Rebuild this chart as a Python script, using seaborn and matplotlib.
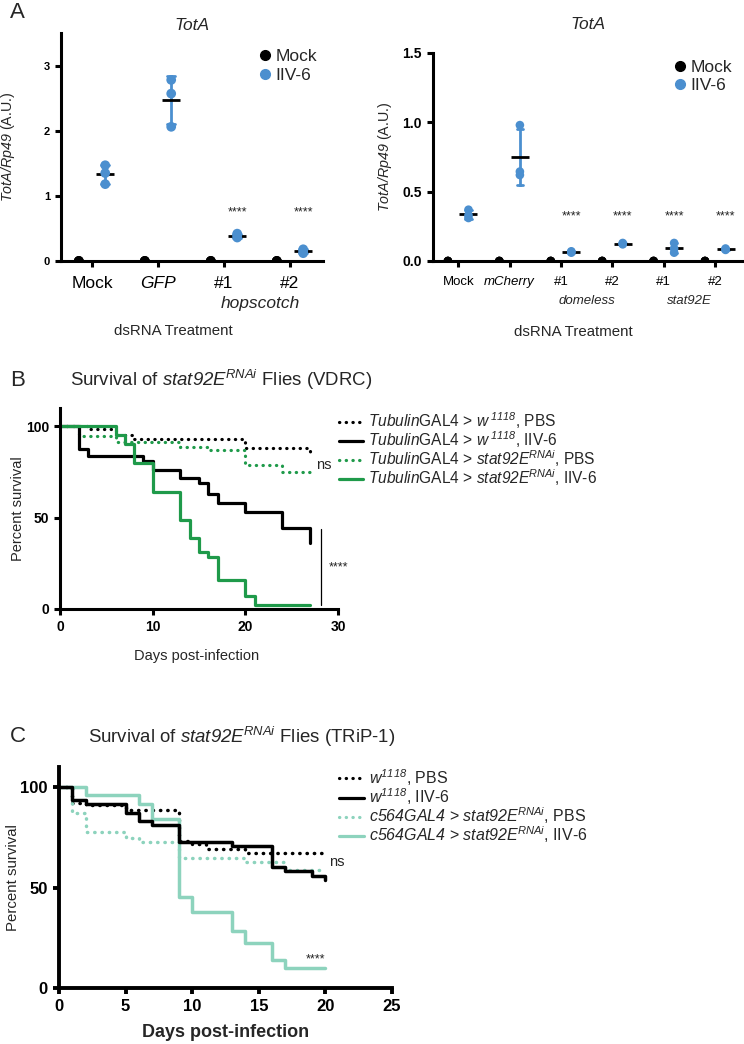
import numpy as np
import pandas as pd
import matplotlib
matplotlib.use("Agg")
import matplotlib.pyplot as plt
from matplotlib.lines import Line2D
import seaborn as sns

# ----------------------------------------
# Data: panel A (TotA / Rp49, three replicates per group)
# ----------------------------------------
left_groups = ["Mock", "GFP", "hop #1", "hop #2"]
left_ticklabels = ["Mock", "GFP", "#1", "#2"]
left_mock = [[0.0, 0.0, 0.0], [0.0, 0.0, 0.0], [0.0, 0.0, 0.0], [0.0, 0.0, 0.0]]
left_iiv6 = [[1.47, 1.35, 1.18], [2.78, 2.57, 2.06], [0.42, 0.39, 0.36], [0.18, 0.15, 0.12]]
left_stars = ["", "", "****", "****"]

right_groups = ["Mock", "mCherry", "dome #1", "dome #2", "stat #1", "stat #2"]
right_ticklabels = ["Mock", "mCherry", "#1", "#2", "#1", "#2"]
right_mock = [[0.0, 0.0, 0.0]] * 6
right_iiv6 = [[0.37, 0.33, 0.31], [0.98, 0.62, 0.645], [0.07, 0.06, 0.065],
              [0.13, 0.12, 0.125], [0.13, 0.09, 0.06], [0.09, 0.085, 0.08]]
right_stars = ["", "", "****", "****", "****", "****"]

# ----------------------------------------
# Data: panel B (VDRC survival)
# ----------------------------------------
b_ctrl_pbs_days = [0, 3, 6, 8, 20, 27]
b_ctrl_pbs_surv = [100, 98.4, 95, 93, 88.2, 86]
b_ctrl_iiv_days = [0, 2, 3, 9, 10, 13, 15, 16, 17, 20, 24, 27]
b_ctrl_iiv_surv = [100, 87.5, 84, 81, 76, 71.5, 69, 63, 58, 53, 44.5, 36]
b_rnai_pbs_days = [0, 2, 6, 13, 16, 20, 24, 27]
b_rnai_pbs_surv = [100, 94.5, 91.5, 88.7, 86.8, 78.7, 75, 75]
b_rnai_iiv_days = [0, 6, 7, 8, 10, 13, 14, 15, 16, 17, 20, 21, 27]
b_rnai_iiv_surv = [100, 95, 90.5, 80, 64, 48.6, 38.6, 31.3, 28.2, 15.8, 7.1, 2.2, 2.2]

# ----------------------------------------
# Data: panel C (TRiP-1 survival)
# ----------------------------------------
c_ctrl_pbs_days = [0, 1, 2, 5, 9, 10, 11, 14, 20]
c_ctrl_pbs_surv = [100, 92, 91, 88.6, 73, 71.5, 69.2, 67, 67]
c_ctrl_iiv_days = [0, 1, 2, 5, 6, 7, 9, 13, 16, 17, 19, 20]
c_ctrl_iiv_surv = [100, 93.5, 91.4, 87, 83, 81, 72.5, 70.5, 60.3, 58.2, 55.9, 53.7]
c_rnai_pbs_days = [0, 1, 2, 5, 6, 9, 14, 17, 20]
c_rnai_pbs_surv = [100, 87, 77.5, 74.5, 72.5, 64.5, 62.8, 58.7, 58.7]
c_rnai_iiv_days = [0, 2, 6, 7, 9, 10, 13, 14, 16, 17, 20]
c_rnai_iiv_surv = [100, 96, 91.5, 83.9, 45.4, 38, 28.4, 22.3, 14, 9.8, 9.8]

BLUE = "#4b8fcf"
GREEN = "#1f9a4a"
TEAL = "#8dd3bd"
DOT = (0, (0.1, 2.0))

# ----------------------------------------
# Style
# ----------------------------------------
sns.set_style("ticks")
plt.rcParams["font.family"] = ["Liberation Sans", "DejaVu Sans"]
plt.rcParams["mathtext.fontset"] = "custom"
plt.rcParams["mathtext.rm"] = "Liberation Sans"
plt.rcParams["mathtext.it"] = "Liberation Sans:italic"
plt.rcParams["mathtext.bf"] = "Liberation Sans:bold"
# \mathsf is used for italic gene names so the digits get slanted too
plt.rcParams["mathtext.sf"] = "Liberation Sans:italic"
plt.rcParams["axes.edgecolor"] = "black"

fig = plt.figure(figsize=(7.44, 10.44), dpi=100)


def px_axes(l, t, r, b):
    return fig.add_axes([l / 744, 1 - b / 1044, (r - l) / 744, (b - t) / 1044])


def style_axes(ax, lw, tick_fs):
    sns.despine(ax=ax)
    for s in ["left", "bottom"]:
        ax.spines[s].set_linewidth(lw)
    ax.tick_params(direction="out", length=4.5, width=lw, labelsize=tick_fs, colors="black")
    for lab in ax.get_yticklabels():
        lab.set_fontweight("bold")


def dot_panel(ax, groups, mock, iiv6, stars, star_y, size):
    n = len(groups)
    df = pd.DataFrame({
        "group": list(np.repeat(groups, 3)) * 2,
        "infection": ["Mock"] * (3 * n) + ["IIV-6"] * (3 * n),
        "value": np.concatenate([np.ravel(mock), np.ravel(iiv6)]),
    })
    pal = {"Mock": "black", "IIV-6": BLUE}
    sns.stripplot(data=df, x="group", y="value", hue="infection", order=groups,
                  hue_order=["Mock", "IIV-6"], dodge=True, jitter=False, palette=pal,
                  size=size, linewidth=0, legend=False, ax=ax, zorder=3)
    # SD error bars
    sns.pointplot(data=df, x="group", y="value", hue="infection", order=groups,
                  hue_order=["Mock", "IIV-6"], dodge=0.4, errorbar="sd", capsize=0.12,
                  linestyle="none", marker="o", markersize=0, palette=pal,
                  err_kws={"linewidth": 2}, legend=False, ax=ax)
    # mean lines
    sns.pointplot(data=df, x="group", y="value", hue="infection", order=groups,
                  hue_order=["Mock", "IIV-6"], dodge=0.4, errorbar=None,
                  linestyle="none", marker="_", markersize=13, markeredgewidth=2,
                  palette={"Mock": "black", "IIV-6": "black"}, legend=False, ax=ax)
    for i, s in enumerate(stars):
        if s:
            ax.text(i + 0.2, star_y, s, ha="center", va="center", fontsize=9, color="#222222")
    ax.set_xlabel("dsRNA Treatment", fontsize=10.8)
    ax.set_ylabel(r"$\mathsf{TotA/Rp49}$ (A.U.)", fontsize=10.3)
    handles = [Line2D([], [], marker="o", color="black", lw=0, markersize=7),
               Line2D([], [], marker="o", color=BLUE, lw=0, markersize=7)]
    return handles


# ----------------------------------------
# Panel A left
# ----------------------------------------
axA1 = px_axes(61, 33, 323, 261)
h = dot_panel(axA1, left_groups, left_mock, left_iiv6, left_stars, 0.75, 7)
axA1.set_xlim(-0.47, 3.5)
axA1.set_ylim(0, 3.5)
axA1.set_yticks([0, 1, 2, 3])
axA1.set_xticks(range(len(left_groups)))
axA1.set_xticklabels(left_ticklabels)
style_axes(axA1, 2.2, 8)
axA1.tick_params(axis="x", labelsize=12.5, pad=6)
axA1.get_xticklabels()[1].set_fontstyle("italic")
axA1.text(2.55, -0.185, "hopscotch", transform=axA1.get_xaxis_transform(),
          ha="center", va="center", fontsize=12.5, style="italic")
axA1.xaxis.set_label_coords(0.43, -0.275)
axA1.yaxis.set_label_coords(-0.168, 0.5)
axA1.set_title("TotA", style="italic", fontsize=12.5, pad=1.5)
axA1.legend(h, ["Mock", "IIV-6"], loc="upper left", bbox_to_anchor=(0.72, 0.96),
            frameon=False, fontsize=12.5, handletextpad=0.1, borderaxespad=0,
            labelspacing=0.2, handlelength=1.0)

# ----------------------------------------
# Panel A right
# ----------------------------------------
axA2 = px_axes(433, 53, 742, 261)
h = dot_panel(axA2, right_groups, right_mock, right_iiv6, right_stars, 0.32, 6.2)
axA2.set_xlim(-0.49, 5.52)
axA2.set_ylim(0, 1.5)
axA2.set_yticks([0, 0.5, 1.0, 1.5])
axA2.set_yticklabels(["0.0", "0.5", "1.0", "1.5"])
axA2.set_xticks(range(len(right_groups)))
axA2.set_xticklabels(right_ticklabels)
style_axes(axA2, 2.2, 10)
axA2.tick_params(axis="x", labelsize=9.5, pad=6)
axA2.get_xticklabels()[1].set_fontstyle("italic")
for xc, name in [(2.5, "domeless"), (4.5, "stat92E")]:
    axA2.text(xc, -0.19, name, transform=axA2.get_xaxis_transform(),
              ha="center", va="center", fontsize=9.5, style="italic")
axA2.xaxis.set_label_coords(0.453, -0.31)
axA2.yaxis.set_label_coords(-0.126, 0.5)
axA2.set_title("TotA", style="italic", fontsize=12.5, pad=17)
axA2.legend(h, ["Mock", "IIV-6"], loc="upper left", bbox_to_anchor=(0.75, 1.0),
            frameon=False, fontsize=12.5, handletextpad=0.1, borderaxespad=0,
            labelspacing=0.15, handlelength=1.0)

# ----------------------------------------
# Panel B
# ----------------------------------------
axB = px_axes(60, 408, 338, 609)
for d, s, c, ls in [(b_ctrl_pbs_days, b_ctrl_pbs_surv, "black", DOT),
                    (b_rnai_pbs_days, b_rnai_pbs_surv, GREEN, DOT),
                    (b_ctrl_iiv_days, b_ctrl_iiv_surv, "black", "-"),
                    (b_rnai_iiv_days, b_rnai_iiv_surv, GREEN, "-")]:
    sns.lineplot(x=d, y=s, drawstyle="steps-post", color=c, linewidth=2.3,
                 linestyle=ls, dash_capstyle="round", estimator=None, ax=axB)
axB.set_xlim(0, 30)
axB.set_ylim(0, 110)
axB.set_xticks([0, 10, 20, 30])
axB.set_yticks([0, 50, 100])
style_axes(axB, 2.2, 10)
for lab in axB.get_xticklabels():
    lab.set_fontweight("bold")
axB.plot([28.2, 28.2], [2.2, 43.7], color="black", lw=0.9)
axB.text(29.0, 22.5, "****", fontsize=9, va="center", ha="left", color="#222222")
axB.text(27.6, 78.7, "ns", fontsize=10.5, va="center", ha="left")
axB.set_xlabel("Days post-infection", fontsize=10.5)
axB.set_ylabel("Percent survival", fontsize=10.5)
axB.xaxis.set_label_coords(0.493, -0.2)
axB.yaxis.set_label_coords(-0.126, 0.5)
fig.text(70 / 744, 1 - 380 / 1044,
         r"Survival of $\mathsf{stat92E}^{\mathsf{RNAi}}$ Flies (VDRC)",
         fontsize=13.4, va="center", ha="left")
hB = [Line2D([], [], color="black", lw=2.3, linestyle=DOT, dash_capstyle="round"),
      Line2D([], [], color="black", lw=2.3),
      Line2D([], [], color=GREEN, lw=2.3, linestyle=DOT, dash_capstyle="round"),
      Line2D([], [], color=GREEN, lw=2.3)]
lB = [r"$\mathsf{Tubulin}$GAL4 > $\mathsf{w}^{\ \mathsf{1118}}$, PBS",
      r"$\mathsf{Tubulin}$GAL4 > $\mathsf{w}^{\ \mathsf{1118}}$, IIV-6",
      r"$\mathsf{Tubulin}$GAL4 > $\mathsf{stat92E}^{\mathsf{RNAi}}$, PBS",
      r"$\mathsf{Tubulin}$GAL4 > $\mathsf{stat92E}^{\mathsf{RNAi}}$, IIV-6"]
fig.legend(hB, lB, loc="upper left", bbox_to_anchor=(0.455, 0.607), frameon=False,
           fontsize=11.2, handlelength=1.6, handletextpad=0.3, labelspacing=-0.1,
           borderaxespad=0, borderpad=0)

# ----------------------------------------
# Panel C
# ----------------------------------------
axC = px_axes(59, 767, 392, 988)
for d, s, c, ls in [(c_ctrl_pbs_days, c_ctrl_pbs_surv, "black", DOT),
                    (c_rnai_pbs_days, c_rnai_pbs_surv, TEAL, DOT),
                    (c_rnai_iiv_days, c_rnai_iiv_surv, TEAL, "-"),
                    (c_ctrl_iiv_days, c_ctrl_iiv_surv, "black", "-")]:
    sns.lineplot(x=d, y=s, drawstyle="steps-post", color=c, linewidth=2.5,
                 linestyle=ls, dash_capstyle="round", estimator=None, ax=axC)
axC.set_xlim(0, 25)
axC.set_ylim(0, 110)
axC.set_xticks([0, 5, 10, 15, 20, 25])
axC.set_yticks([0, 50, 100])
style_axes(axC, 2.8, 12)
for lab in axC.get_xticklabels():
    lab.set_fontweight("bold")
axC.text(20.0, 14.0, "****", fontsize=9, va="center", ha="right", color="#222222")
axC.text(20.3, 62.7, "ns", fontsize=10.5, va="center", ha="left")
axC.set_xlabel("Days post-infection", fontsize=13, fontweight="bold")
axC.set_ylabel("Percent survival", fontsize=10.8)
axC.xaxis.set_label_coords(0.5, -0.163)
axC.yaxis.set_label_coords(-0.117, 0.5)
fig.text(88 / 744, 1 - 737 / 1044,
         r"Survival of $\mathsf{stat92E}^{\mathsf{RNAi}}$ Flies (TRiP-1)",
         fontsize=13.4, va="center", ha="left")
hC = [Line2D([], [], color="black", lw=2.3, linestyle=DOT, dash_capstyle="round"),
      Line2D([], [], color="black", lw=2.3),
      Line2D([], [], color=TEAL, lw=2.3, linestyle=DOT, dash_capstyle="round"),
      Line2D([], [], color=TEAL, lw=2.3)]
lC = [r"$\mathsf{w}^{\mathsf{1118}}$, PBS",
      r"$\mathsf{w}^{\mathsf{1118}}$, IIV-6",
      r"$\mathsf{c564GAL4}$ > $\mathsf{stat92E}^{\mathsf{RNAi}}$, PBS",
      r"$\mathsf{c564GAL4}$ > $\mathsf{stat92E}^{\mathsf{RNAi}}$, IIV-6"]
fig.legend(hC, lC, loc="upper left", bbox_to_anchor=(0.455, 0.265), frameon=False,
           fontsize=11.5, handlelength=1.6, handletextpad=0.3, labelspacing=-0.1,
           borderaxespad=0, borderpad=0)

# panel letters
for letter, y in [("A", 12), ("B", 380), ("C", 737)]:
    fig.text(10 / 744, 1 - y / 1044, letter, fontsize=16, va="center", ha="left")

fig.savefig("out.png", dpi=100)
